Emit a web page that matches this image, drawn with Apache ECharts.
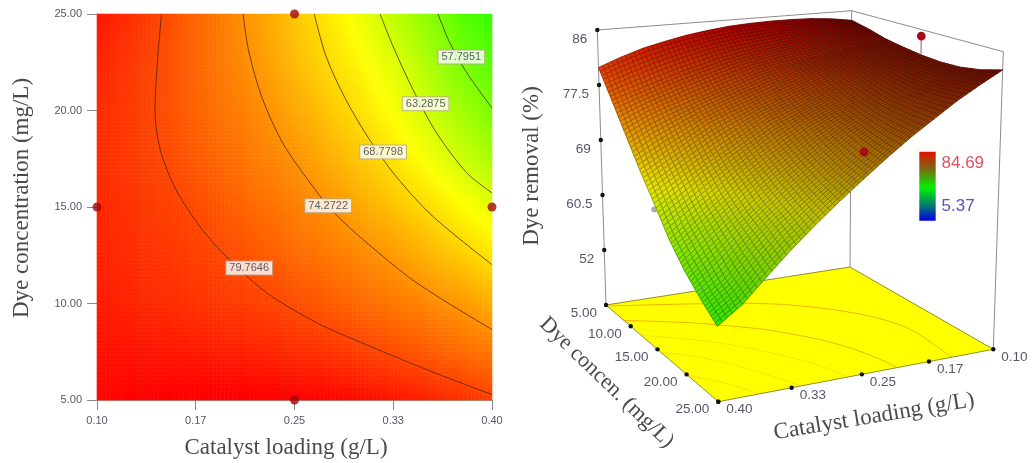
<!DOCTYPE html>
<html><head><meta charset="utf-8">
<style>html,body{margin:0;padding:0;background:#fff}#c{width:1032px;height:463px}</style>
<script src="https://cdn.jsdelivr.net/npm/echarts@6/dist/echarts.min.js"></script>
</head><body><div id="c"></div>
<script>
// ---------- data ----------
const catalystLevels = [0.100,0.125,0.150,0.175,0.200,0.225,0.250,0.275,0.300,0.325,0.350,0.375,0.400];
const dyeLevels = [5,7.5,10,12.5,15,17.5,20,22.5,25];
const removalDye5  = [84.4,84.9,85.2,85.3,85.3,85.2,85.0,84.6,84.1,83.4,82.6,81.5,80.2];
const removalDye7  = [83.8,83.6,83.4,83.1,82.8,82.3,81.8,81.2,80.3,79.4,78.3,77.2,76.14];
const removalDye10 = [83.0,82.43,81.86,81.3,80.72,80.15,79.43,78.34,77.25,76.15,75.06,73.8,72.06];
const removalDye12 = [82.5,81.8,81.1,80.4,79.6,78.45,77.3,76.15,75.0,73.65,71.8,69.95,68.0];
const removalDye15 = [82.1,81.25,80.4,79.43,78.15,76.88,75.6,74.35,72.45,70.55,68.65,66.5,64.35];
const removalDye17 = [81.9,80.85,79.8,78.42,77.02,75.63,74.2,72.2,70.2,68.05,65.55,63.1,60.6];
const removalDye20 = [82.0,80.8,79.38,77.78,76.18,74.6,72.55,70.4,68.18,65.68,63.15,60.45,57.7];
const removalDye22 = [82.5,81.1,79.46,77.55,75.64,73.6,71.2,68.87,66.48,64.08,61.0,57.7,55.4];
const removalDye25 = [83.4,81.6,79.67,77.47,75.27,72.84,70.29,67.68,64.93,62.04,58.91,55.72,53.4];
const removalRows = [removalDye5,removalDye7,removalDye10,removalDye12,removalDye15,removalDye17,removalDye20,removalDye22,removalDye25];

const contour79 = [[.149,25],[.146,22.63],[.144,20.04],[.148,17.97],[.160,15.9],[.178,14],[.198,12.44],[.229,10.55],[.267,9.0],[.305,7.85],[.355,6.45],[.40,5.28]];
const contour74 = [[.211,25],[.215,23.15],[.225,20.73],[.241,18.32],[.262,16.24],[.279,14.78],[.305,13.14],[.343,11.06],[.40,8.65]];
const contour68 = [[.265,25],[.274,22.8],[.289,20.56],[.307,18.49],[.327,16.59],[.355,14.52],[.40,12.01]];
const contour63 = [[.315,25],[.325,23.3],[.340,21.08],[.358,18.83],[.381,16.76],[.40,15.73]];
const contour57 = [[.359,25],[.368,23.5],[.381,21.94],[.40,20.13]];
const contours = [contour79,contour74,contour68,contour63,contour57];
const contourNames = ['79.7646','74.2722','68.7798','63.2875','57.7951'];
const contourLabelAt = [[.2156,11.84],[.2756,15.07],[.3173,17.85],[.3496,20.35],[.3767,22.77]];

const designCatalyst = [.25,.10,.40,.25];
const designDye = [25,15,15,5];
const designRemoval = [74,85,63.5,83];

const catTicks = [.10,.175,.25,.325,.40];
const catTickLabels = ['0.10','0.17','0.25','0.33','0.40'];
const dyeTicks = [5,10,15,20,25];
const dyeTickLabels = ['5.00','10.00','15.00','20.00','25.00'];
const zTicks = [52,60.5,69,77.5,86];
const zTickLabels = ['52','60.5','69','77.5','86'];
const legendLabels = ['84.69','5.37'];

// ---------- colour scale ----------
const colorStops = [[85,255,0,0],[66,255,255,0],[50,0,255,0]];
function rampRGB(v){
  if(v>=colorStops[0][0]) return colorStops[0].slice(1);
  for(let k=0;k<colorStops.length-1;k++){
    const a=colorStops[k],b=colorStops[k+1];
    if(v>=b[0]){const t=(a[0]-v)/(a[0]-b[0]);return [a[1]+(b[1]-a[1])*t,a[2]+(b[2]-a[2])*t,a[3]+(b[3]-a[3])*t];}
  }
  return colorStops[colorStops.length-1].slice(1);
}
const rgb=(c,f)=>`rgb(${Math.round(c[0]*f)},${Math.round(c[1]*f)},${Math.round(c[2]*f)})`;
// shading within a table cell (i,j) at fractions s,t
function shadeAt(i,j,s,t){
  const r0=removalRows[j],r1=removalRows[Math.min(j+1,dyeLevels.length-1)];
  const i1=Math.min(i+1,catalystLevels.length-1);
  return (r0[i]*(1-s)+r0[i1]*s)*(1-t)+(r1[i]*(1-s)+r1[i1]*s)*t;
}

// ---------- 3D box projection ----------
const zMin=43.5,zMax=86;
const floorQuad=[[850,267],[606,305],[718.3,401.7],[993.3,349.3]];   // back,left,front,right
const roofQuad =[[851.7,10.7],[597.3,30],[714,78.3],[1003.3,51.7]];
function homography(q){
  const [[x0,y0],[x1,y1],[x2,y2],[x3,y3]]=q;
  const dx1=x1-x2,dx2=x3-x2,sx=x0-x1+x2-x3,dy1=y1-y2,dy2=y3-y2,sy=y0-y1+y2-y3;
  const den=dx1*dy2-dx2*dy1,g=(sx*dy2-dx2*sy)/den,h=(dx1*sy-sx*dy1)/den;
  const a=x1-x0+g*x1,b=x3-x0+h*x3,d=y1-y0+g*y1,e=y3-y0+h*y3;
  return (u,v)=>{const w=g*u+h*v+1;return [(a*u+b*v+x0)/w,(d*u+e*v+y0)/w];};
}
const floorH=homography(floorQuad),roofH=homography(roofQuad);
const catMin=catalystLevels[0],catMax=catalystLevels[12],dyeMin=dyeLevels[0],dyeMax=dyeLevels[8];
function project(cat,dye,z){
  const u=(cat-catMin)/(catMax-catMin),v=(dye-dyeMin)/(dyeMax-dyeMin),w=(z-zMin)/(zMax-zMin);
  const a=floorH(u,v),b=roofH(u,v);
  return [a[0]+(b[0]-a[0])*w,a[1]+(b[1]-a[1])*w];
}
const BOX='#8c8c8c',TICKTXT='#55566a',FONT='"Liberation Sans",Arial,sans-serif',SERIF='"Liberation Serif","Times New Roman",serif';
const line=(p,q,color,w)=>({type:'line',shape:{x1:p[0],y1:p[1],x2:q[0],y2:q[1]},style:{stroke:color,lineWidth:w}});
const dot=(p,r,fill)=>({type:'circle',shape:{cx:p[0],cy:p[1],r},style:{fill}});
const txt=(p,s,align,size,color)=>({type:'text',x:p[0],y:p[1],style:{text:s,align,textAlign:align,verticalAlign:'middle',textVerticalAlign:'middle',font:size+'px '+FONT,fill:color}});

// ---------- left contour panel ----------
const SUBX=8,SUBY=12;
const cells=[];
for(let i=0;i<catalystLevels.length-1;i++)for(let j=0;j<dyeLevels.length-1;j++)cells.push([catalystLevels[i],dyeLevels[j],i,j]);
function renderFlatCell(p,api){
  const i=api.value(2),j=api.value(3),kids=[];
  const x0=catalystLevels[i],x1=catalystLevels[i+1],y0=dyeLevels[j],y1=dyeLevels[j+1];
  const a=api.coord([x0,y0]),b=api.coord([x1,y1]);
  const w=(b[0]-a[0])/SUBX,h=(b[1]-a[1])/SUBY;
  for(let m=0;m<SUBX;m++)for(let n=0;n<SUBY;n++){
    const c=rgb(rampRGB(shadeAt(i,j,(m+.5)/SUBX,(n+.5)/SUBY)),1);
    kids.push({type:'rect',shape:{x:a[0]+m*w,y:a[1]+n*h,width:w,height:h},style:{fill:c,stroke:c,lineWidth:.6}});
  }
  return {type:'group',children:kids};
}

// ---------- 3D panel ----------
const MESHX=5,MESHY=8;
function renderSurfCell(p,api){
  const i=api.value(2),j=api.value(3),kids=[];
  const dc=catalystLevels[i+1]-catalystLevels[i],dd=dyeLevels[j+1]-dyeLevels[j];
  const P=(m,n)=>project(catalystLevels[i]+dc*m/MESHX,dyeLevels[j]+dd*n/MESHY,shadeAt(i,j,m/MESHX,n/MESHY));
  for(let m=0;m<MESHX;m++)for(let n=0;n<MESHY;n++){
    const s=(m+.5)/MESHX,t=(n+.5)/MESHY;
    const cat=catalystLevels[i]+dc*s;
    const light=.48+.42*(cat-catMin)/(catMax-catMin);
    const base=rampRGB(shadeAt(i,j,s,t));
    kids.push({type:'polygon',shape:{points:[P(m,n),P(m+1,n),P(m+1,n+1),P(m,n+1)]},
      style:{fill:rgb(base,light),stroke:rgb(base,light*.68),lineWidth:.9}});
  }
  return {type:'group',children:kids};
}
function renderBackdrop(){
  const k=[];
  const fl=(c,d)=>project(c,d,zMin),tp=(c,d)=>project(c,d,zMax);
  [[catMax,dyeMin],[catMin,dyeMin],[catMin,dyeMax]].forEach(c=>k.push(line(fl(c[0],c[1]),tp(c[0],c[1]),BOX,1)));
  k.push(line(tp(catMax,dyeMin),tp(catMin,dyeMin),BOX,1));
  k.push(line(tp(catMin,dyeMin),tp(catMin,dyeMax),BOX,1));
  k.push({type:'polygon',shape:{points:[fl(catMin,dyeMin),fl(catMax,dyeMin),fl(catMax,dyeMax),fl(catMin,dyeMax)]},
    style:{fill:'#ffff00',stroke:'#8f8f28',lineWidth:1}});
  contours.forEach((cn,n)=>k.push({type:'polyline',shape:{points:cn.map(q=>fl(q[0],q[1])),smooth:.3},
    style:{stroke:n<2?'rgba(232,130,0,.6)':'rgba(240,190,0,.45)',lineWidth:1,fill:'none'}}));
  zTicks.forEach((z,n)=>{const q=project(catMax,dyeMin,z);k.push(dot(q,2.2,'#111'));k.push(txt([q[0]-10,q[1]+9],zTickLabels[n],'right',13.5,TICKTXT));});
  dyeTicks.forEach((d,n)=>{const q=fl(catMax,d);k.push(dot(q,2.2,'#111'));k.push(txt([q[0]-9,q[1]+8],dyeTickLabels[n],'right',13.5,TICKTXT));});
  catTicks.forEach((c,n)=>{const q=fl(c,dyeMax);k.push(dot(q,2.2,'#111'));k.push(txt([q[0]+8,q[1]+8],catTickLabels[n],'left',13.5,TICKTXT));});
  // design points that sit behind the surface
  [3,2].forEach(n=>{const q=project(designCatalyst[n],designDye[n],designRemoval[n]);k.push(dot(q,3,'#aeaab4'));});
  return {type:'group',children:k};
}
function renderFrontMarks(){
  const k=[];
  [0,1].forEach(n=>{
    const c=designCatalyst[n],d=designDye[n];
    const sv=removalRows[dyeLevels.indexOf(d)][catalystLevels.indexOf(c)];
    const q=project(c,d,designRemoval[n]);
    k.push(line(q,project(c,d,sv),'#7d6a6a',1));
    k.push(dot(q,4.4,'#a80c18'));
  });
  return {type:'group',children:k};
}

const series=[
  {type:'custom',xAxisIndex:0,yAxisIndex:0,data:cells,renderItem:renderFlatCell,silent:true,z:1,encode:{x:0,y:1}},
  ...contours.map((c,n)=>({type:'line',name:contourNames[n],xAxisIndex:0,yAxisIndex:0,data:c,smooth:.3,showSymbol:false,silent:true,z:2,
     lineStyle:{color:'rgba(70,35,0,.75)',width:1}})),
  {type:'scatter',xAxisIndex:0,yAxisIndex:0,silent:true,z:4,symbol:'circle',symbolSize:1,itemStyle:{color:'rgba(0,0,0,0)'},
   data:contourLabelAt.map((q,n)=>({value:q,name:contourNames[n]})),
   label:{show:true,position:'inside',formatter:'{b}',fontFamily:FONT,fontSize:11,color:'#34344e',backgroundColor:'#fff',borderColor:'#b4a890',borderWidth:1,padding:[1,3]}},
  {type:'scatter',xAxisIndex:0,yAxisIndex:0,silent:true,z:5,symbolSize:9,clip:false,itemStyle:{color:'#a00808'},
   data:designCatalyst.map((c,n)=>[c,designDye[n]])},
  {type:'custom',coordinateSystem:'none',data:[[0]],renderItem:renderBackdrop,silent:true,z:1},
  {type:'custom',coordinateSystem:'none',silent:true,z:2,data:cells,encode:{},renderItem:renderSurfCell},
  {type:'custom',coordinateSystem:'none',data:[[0]],renderItem:renderFrontMarks,silent:true,z:3}
];

const serifTitle=(x,y,rot,text,size)=>({type:'text',x,y,rotation:rot*Math.PI/180,silent:true,
  style:{text,align:'center',textAlign:'center',verticalAlign:'middle',textVerticalAlign:'middle',font:size+'px '+SERIF,fill:'#4a4a4a'}});

const chart=echarts.init(document.getElementById('c'),null,{renderer:'canvas'});
chart.setOption({
  animation:false,backgroundColor:'#fff',
  grid:[{left:97,top:14,width:395,height:386}],
  xAxis:[{type:'value',min:catMin,max:catMax,gridIndex:0,splitLine:{show:false},
    axisLine:{lineStyle:{color:'#a89a90'}},
    axisTick:{customValues:catTicks,length:10,lineStyle:{color:'#888'}},
    axisLabel:{customValues:catTicks,margin:15,fontFamily:FONT,fontSize:11,color:TICKTXT,
      formatter:v=>catTickLabels[catTicks.findIndex(t=>Math.abs(t-v)<1e-6)]}}],
  yAxis:[{type:'value',min:dyeMin,max:dyeMax,gridIndex:0,splitLine:{show:false},
    axisLine:{lineStyle:{color:'#a89a90'}},
    axisTick:{customValues:dyeTicks,length:10,lineStyle:{color:'#888'}},
    axisLabel:{customValues:dyeTicks,margin:15,fontFamily:FONT,fontSize:11,color:TICKTXT,
      formatter:v=>Number(v).toFixed(2)}}],
  series,
  graphic:{elements:[
    serifTitle(286,448,0,'Catalyst loading (g/L)',23),
    serifTitle(22,198,90,'Dye concentration (mg/L)',23),
    serifTitle(532,166,90,'Dye removal (%)',23),
    serifTitle(606.7,382.7,-44,'Dye concen. (mg/L)',22),
    serifTitle(874,416.7,9.4,'Catalyst loading (g/L)',23),
    {type:'rect',shape:{x:919.3,y:151.7,width:16.4,height:69},silent:true,style:{fill:new echarts.graphic.LinearGradient(0,0,0,1,[
      {offset:0,color:'#e01000'},{offset:.25,color:'#7a6a10'},{offset:.52,color:'#00f000'},{offset:.78,color:'#007a70'},{offset:1,color:'#0000e8'}])}},
    {type:'text',x:941.5,y:163,silent:true,style:{text:legendLabels[0],align:'left',verticalAlign:'middle',textVerticalAlign:'middle',font:'17px '+FONT,fill:'#e2505f'}},
    {type:'text',x:941.5,y:206,silent:true,style:{text:legendLabels[1],align:'left',verticalAlign:'middle',textVerticalAlign:'middle',font:'17px '+FONT,fill:'#5454c4'}}
  ]}
});
</script></body></html>
